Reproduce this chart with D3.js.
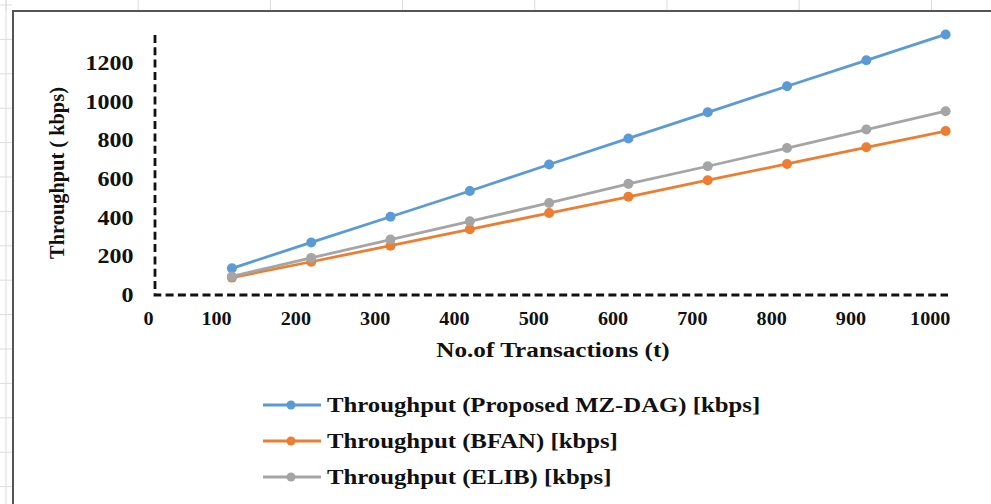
<!DOCTYPE html>
<html>
<head>
<meta charset="utf-8">
<script src="https://cdn.jsdelivr.net/npm/d3@7"></script>
<style>
body { margin: 0; background: #fff; }
svg text { font-family: "Liberation Serif", "DejaVu Serif", "Times New Roman", serif !important; font-weight: bold; fill: #111; }
</style>
</head>
<body>
<script>
var width = 991,
    height = 504;

// data
var transactions = [120, 220, 320, 420, 520, 620, 720, 820, 920, 1020];
var mzdag = [138, 272, 405, 538, 675, 810, 945, 1080, 1214, 1348];
var bfan  = [90, 172, 255, 340, 424, 508, 594, 678, 764, 848];
var elib  = [96, 192, 287, 381, 476, 575, 666, 760, 856, 951];
var xTicks = [0, 100, 200, 300, 400, 500, 600, 700, 800, 900, 1000];
var yTicks = [0, 200, 400, 600, 800, 1000, 1200];
var seriesNames = ["Throughput (Proposed MZ-DAG) [kbps]", "Throughput (BFAN) [kbps]", "Throughput (ELIB) [kbps]"];
var seriesColors = ["#5b9bd5", "#ed7d31", "#a5a5a5"];

var series = [mzdag, bfan, elib].map(function(vals, i) {
    return {
        name: seriesNames[i],
        color: seriesColors[i],
        points: vals.map(function(v, j) { return {x: transactions[j], y: v}; })
    };
});

var svg = d3.select('body')
    .append('svg')
    .attr('width', width)
    .attr('height', height);

// spreadsheet grid behind the chart frame
var grid = svg.append('g').attr('stroke', '#dcdcdc').attr('stroke-width', 1);
d3.range(6, 1000, 132.2).forEach(function(x) {
    grid.append('line').attr('x1', x).attr('x2', x).attr('y1', 0).attr('y2', 10);
});
d3.range(5, 504, 34.4).forEach(function(y) {
    grid.append('line').attr('x1', 0).attr('x2', 12).attr('y1', y).attr('y2', y);
});
grid.append('line').attr('x1', 6).attr('x2', 6).attr('y1', 0).attr('y2', height);

svg.append('rect')
    .attr('x', 13).attr('y', 11)
    .attr('width', width).attr('height', height)
    .attr('fill', '#fff')
    .attr('stroke', '#555')
    .attr('stroke-width', 2);

var x = d3.scaleLinear().domain([23, 1023]).range([155, 948]);
var y = d3.scaleLinear().domain([0, 1345]).range([295, 35]);

// dashed axis lines
svg.append('path')
    .attr('d', 'M' + x(23) + ',' + y(1345) + 'V' + y(0) + 'H' + x(1023))
    .attr('fill', 'none')
    .attr('stroke', '#111')
    .attr('stroke-width', 2.8)
    .attr('stroke-dasharray', '8,4.3');

// the excel text looks horizontally stretched, so scale it a bit
var xAxis = svg.append('g')
    .attr('transform', 'translate(0,' + y(0) + ')')
    .call(d3.axisBottom(x).tickValues(xTicks).tickSize(0).tickPadding(17).tickFormat(d3.format('d')));
xAxis.select('.domain').remove();
xAxis.selectAll('text')
    .style('font-size', '18px')
    .attr('transform', 'scale(1.12,1)');
xAxis.selectAll('.tick').filter(function(d) { return d === 0; }).select('text').attr('dx', 10);

var yAxis = svg.append('g')
    .attr('transform', 'translate(' + x(23) + ',0)')
    .call(d3.axisLeft(y).tickValues(yTicks).tickSize(0).tickPadding(22).tickFormat(d3.format('d')));
yAxis.select('.domain').remove();
yAxis.selectAll('text').style('font-size', '20px').attr('transform', 'scale(1.2,1)').attr('x', -18);

svg.append('text')
    .attr('transform', 'translate(64,173) rotate(-90) scale(1.02,1)')
    .attr('text-anchor', 'middle')
    .style('font-size', '20px')
    .text('Throughput  ( kbps)');

svg.append('text')
    .attr('transform', 'translate(553,357) scale(1.2,1)')
    .attr('text-anchor', 'middle')
    .style('font-size', '21px')
    .text('No.of Transactions (t)');

var line = d3.line().x(function(d) { return x(d.x); }).y(function(d) { return y(d.y); });

var g = svg.selectAll('.series')
    .data(series)
    .enter()
    .append('g');

g.append('path')
    .attr('fill', 'none')
    .attr('stroke', function(d) { return d.color; })
    .attr('stroke-width', 2.8)
    .attr('d', function(d) { return line(d.points); });

g.selectAll('circle')
    .data(function(d) { return d.points.map(function(p) { return {p: p, color: d.color}; }); })
    .enter()
    .append('circle')
    .attr('cx', function(d) { return x(d.p.x); })
    .attr('cy', function(d) { return y(d.p.y); })
    .attr('r', 5)
    .attr('fill', function(d) { return d.color; });

// legend
var legend = svg.append('g');
var rows = legend.selectAll('g')
    .data(series)
    .enter()
    .append('g')
    .attr('transform', function(d, i) { return 'translate(263,' + (405 + i * 36) + ')'; });

rows.append('line')
    .attr('x1', 0).attr('x2', 58)
    .attr('stroke', function(d) { return d.color; })
    .attr('stroke-width', 2.8);
rows.append('circle')
    .attr('cx', 28).attr('r', 4.5)
    .attr('fill', function(d) { return d.color; });
rows.append('text')
    .attr('transform', 'translate(64,0) scale(1.18,1)')
    .attr('dy', '0.35em')
    .style('font-size', '21px')
    .text(function(d) { return d.name; });
</script>
</body>
</html>
